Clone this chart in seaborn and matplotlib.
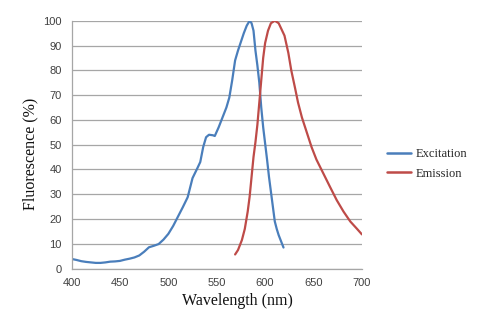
import matplotlib
matplotlib.use("Agg")
import matplotlib.pyplot as plt
import seaborn as sns
import pandas as pd
from matplotlib.lines import Line2D

# ---- data ----
exc_wavelength = [400, 405, 410, 415, 420, 425, 430, 435, 440, 445, 450, 455, 460, 465, 470,
                  475, 480, 485, 490, 495, 500, 505, 510, 515, 520, 525, 530, 533, 536, 539,
                  542, 546, 548, 552, 556, 560, 563, 566, 569, 572, 575, 578, 581, 584, 586,
                  588, 590, 592, 594, 596, 598, 600, 602, 604, 606, 608, 610, 612, 614, 617, 619]
exc_values = [3.9, 3.5, 3.0, 2.7, 2.5, 2.3, 2.3, 2.5, 2.8, 2.9, 3.1, 3.6, 4.0, 4.5, 5.3,
              6.8, 8.6, 9.2, 9.9, 11.7, 14.0, 17.2, 21.0, 24.8, 28.8, 36.5, 40.5, 43.0, 49.0, 53.0,
              54.0, 53.8, 53.5, 57.0, 61.0, 65.0, 69.0, 76.0, 84.0, 88.0, 91.5, 95.0, 98.0, 100.0, 99.0,
              96.0, 88.0, 82.0, 75.0, 65.0, 57.0, 50.5, 44.0, 37.0, 31.0, 25.0, 19.0, 16.0, 13.5, 10.5, 8.5]
emi_wavelength = [569, 572, 576, 579, 582, 584, 586, 588, 590, 592, 594, 596, 598, 600, 603,
                  606, 610, 614, 617, 620, 624, 627, 631, 634, 638, 643, 648, 653, 660, 667,
                  674, 681, 688, 695, 700]
emi_values = [5.7, 7.5, 11.5, 16.0, 23.0, 29.0, 37.0, 45.0, 51.0, 58.0, 67.0, 76.0, 85.0, 91.0, 96.0,
              99.0, 100.0, 99.0, 96.5, 94.0, 87.0, 80.0, 72.7, 67.0, 61.0, 55.0, 49.0, 44.0, 38.5, 33.0,
              27.6, 23.0, 19.0, 16.0, 13.8]
series_names = ["Excitation", "Emission"]
x_ticks = [400, 450, 500, 550, 600, 650, 700]
y_ticks = [0, 10, 20, 30, 40, 50, 60, 70, 80, 90, 100]

df = pd.concat([
    pd.DataFrame({"Wavelength": exc_wavelength, "Fluorescence": exc_values, "Series": series_names[0]}),
    pd.DataFrame({"Wavelength": emi_wavelength, "Fluorescence": emi_values, "Series": series_names[1]}),
], ignore_index=True)

sns.set_style("white")
plt.rcParams["font.family"] = ["Liberation Sans", "DejaVu Sans"]

fig = plt.figure(figsize=(4.8, 3.24), dpi=100)
ax = fig.add_axes([0.149, 0.171, 0.605, 0.765])

palette = {"Excitation": "#4a7ebb", "Emission": "#be4b48"}
sns.lineplot(data=df, x="Wavelength", y="Fluorescence", hue="Series", palette=palette,
             linewidth=1.6, ax=ax, sort=False, estimator=None, legend=False)

ax.set_xlim(400, 700)
ax.set_ylim(0, 100)
ax.set_xticks(x_ticks)
ax.set_yticks(y_ticks)
ax.yaxis.grid(True, color="#a6a6a6", linewidth=0.9)
ax.xaxis.grid(False)
ax.set_axisbelow(True)
for s in ["top", "right"]:
    ax.spines[s].set_visible(False)
for s in ["left", "bottom"]:
    ax.spines[s].set_color("#a6a6a6")
    ax.spines[s].set_linewidth(0.9)
ax.tick_params(axis="both", which="major", labelsize=8, colors="#a6a6a6", labelcolor="#404040",
               length=4, width=0.9, direction="out", pad=3)

serif = ["Liberation Serif", "DejaVu Serif"]
ax.set_xlabel("Wavelength (nm)", fontsize=11.5, family=serif, color="#111111")
ax.set_ylabel("Fluorescence (%)", fontsize=11.5, family=serif, color="#111111")
ax.xaxis.set_label_coords(0.572, -0.097)
ax.yaxis.set_label_coords(-0.113, 0.462)

handles = [Line2D([0], [0], color=palette[n], linewidth=1.8) for n in series_names]
fig.legend(handles, series_names, loc="center left", bbox_to_anchor=(0.783, 0.494),
           frameon=False, prop={"family": serif, "size": 9}, handlelength=1.9,
           handletextpad=0.4, labelspacing=0.6)

fig.savefig("out.png", dpi=100)
